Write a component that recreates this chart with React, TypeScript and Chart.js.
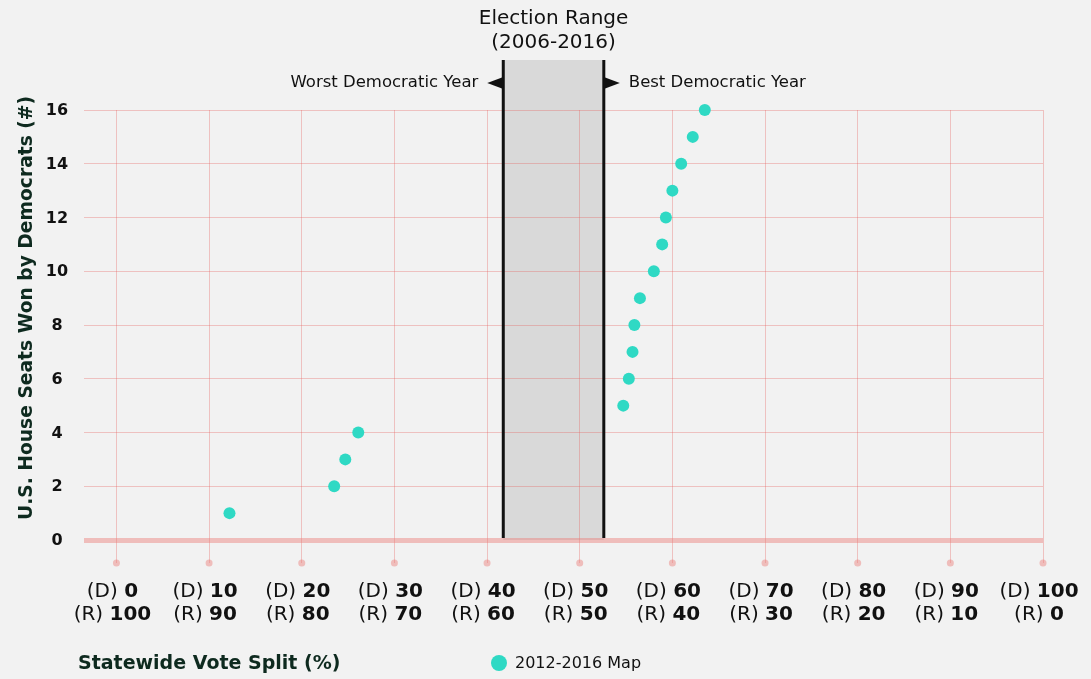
import React, { useEffect, useRef } from "react";
import { Chart, registerables } from "chart.js";

Chart.register(...registerables);

// ---- data ----
const seatsWon = [1, 2, 3, 4, 5, 6, 7, 8, 9, 10, 11, 12, 13, 14, 15, 16];
const demVoteShare = [12.2, 23.5, 24.7, 26.1, 54.7, 55.3, 55.7, 55.9, 56.5, 58.0, 58.9, 59.3, 60.0, 60.95, 62.2, 63.5];
const demTicks = [0, 10, 20, 30, 40, 50, 60, 70, 80, 90, 100];
const repTicks = [100, 90, 80, 70, 60, 50, 40, 30, 20, 10, 0];
const seatTicks = [0, 2, 4, 6, 8, 10, 12, 14, 16];
const electionRange = [41.75, 52.6];
const seriesLabel = "2012-2016 Map";
const xTitle = "Statewide Vote Split (%)";
const yTitle = "U.S. House Seats Won by Democrats (#)";
const rangeTitle = ["Election Range", "(2006-2016)"];
const worstLabel = "Worst Democratic Year";
const bestLabel = "Best Democratic Year";

const FONT = "'DejaVu Sans', sans-serif";
const TEAL = "#2fd9c4";
const GRID = "rgba(232, 95, 90, 0.33)";
const ZERO = "rgba(235, 125, 120, 0.45)";
const DARK = "#0e2a1f";

const decorPlugin = {
  id: "decor",
  beforeDraw(chart: any) {
    const { ctx } = chart;
    const xs = chart.scales.x;
    const ys = chart.scales.y;
    ctx.save();
    ctx.fillStyle = "#f2f2f2";
    ctx.fillRect(0, 0, chart.width, chart.height);
    const x0 = xs.getPixelForValue(electionRange[0]);
    const x1 = xs.getPixelForValue(electionRange[1]);
    const yb = ys.getPixelForValue(0);
    ctx.fillStyle = "#d9d9d9";
    ctx.fillRect(x0, 60, x1 - x0, yb - 60);
    ctx.restore();
  },
  beforeDatasetsDraw(chart: any) {
    const { ctx } = chart;
    const xs = chart.scales.x;
    const ys = chart.scales.y;
    const x0 = xs.getPixelForValue(electionRange[0]);
    const x1 = xs.getPixelForValue(electionRange[1]);
    const yb = ys.getPixelForValue(0);
    ctx.save();
    ctx.strokeStyle = "#111";
    ctx.lineWidth = 3;
    ctx.beginPath();
    ctx.moveTo(x0, 60);
    ctx.lineTo(x0, yb - 2);
    ctx.moveTo(x1, 60);
    ctx.lineTo(x1, yb - 2);
    ctx.stroke();
    // arrows
    const ay = 83;
    ctx.fillStyle = "#111";
    ctx.beginPath();
    ctx.moveTo(x0, ay - 6);
    ctx.lineTo(x0 - 16, ay);
    ctx.lineTo(x0, ay + 6);
    ctx.closePath();
    ctx.fill();
    ctx.beginPath();
    ctx.moveTo(x1, ay - 6);
    ctx.lineTo(x1 + 16, ay);
    ctx.lineTo(x1, ay + 6);
    ctx.closePath();
    ctx.fill();
    ctx.font = `16.5px ${FONT}`;
    ctx.textBaseline = "middle";
    ctx.textAlign = "right";
    ctx.fillText(worstLabel, x0 - 25, ay);
    ctx.textAlign = "left";
    ctx.fillText(bestLabel, x1 + 25, ay);
    // title
    ctx.font = `20px ${FONT}`;
    ctx.textAlign = "center";
    const cx = (x0 + x1) / 2;
    ctx.fillText(rangeTitle[0], cx, 19);
    ctx.fillText(rangeTitle[1], cx, 43);
    ctx.restore();
  },
  afterDraw(chart: any) {
    const { ctx } = chart;
    const xs = chart.scales.x;
    const ys = chart.scales.y;
    const yb = ys.getPixelForValue(0);
    ctx.save();
    // dots at the ends of the vertical grid lines
    ctx.fillStyle = ZERO;
    demTicks.forEach((d) => {
      ctx.beginPath();
      ctx.arc(xs.getPixelForValue(d), yb + 23, 3.5, 0, Math.PI * 2);
      ctx.fill();
    });
    // y tick labels
    ctx.fillStyle = "#111";
    ctx.font = `bold 16px ${FONT}`;
    ctx.textAlign = "center";
    ctx.textBaseline = "middle";
    seatTicks.forEach((s) => {
      ctx.fillText(String(s), 57, ys.getPixelForValue(s) + 1);
    });
    // x tick labels (two lines, mixed weights)
    const drawMixed = (pre: string, num: string, cx: number, cy: number) => {
      ctx.font = `20px ${FONT}`;
      const w1 = ctx.measureText(pre).width;
      ctx.font = `bold 20px ${FONT}`;
      const w2 = ctx.measureText(num).width;
      const start = cx - (w1 + w2) / 2;
      ctx.textAlign = "left";
      ctx.font = `20px ${FONT}`;
      ctx.fillText(pre, start, cy);
      ctx.font = `bold 20px ${FONT}`;
      ctx.fillText(num, start + w1, cy);
    };
    ctx.fillStyle = "#111";
    demTicks.forEach((d, i) => {
      const px = xs.getPixelForValue(d) - 4;
      drawMixed("(D) ", String(d), px, 592);
      drawMixed("(R) ", String(repTicks[i]), px, 615);
    });
    // axis titles
    ctx.fillStyle = DARK;
    ctx.font = `bold 19px ${FONT}`;
    ctx.textAlign = "left";
    ctx.textBaseline = "middle";
    ctx.fillText(xTitle, 78, 664);
    ctx.save();
    ctx.translate(27, 308);
    ctx.rotate(-Math.PI / 2);
    ctx.textAlign = "center";
    ctx.font = `bold 18.7px ${FONT}`;
    ctx.fillText(yTitle, 0, 0);
    ctx.restore();
    // legend
    ctx.fillStyle = TEAL;
    ctx.beginPath();
    ctx.arc(499, 663, 8, 0, Math.PI * 2);
    ctx.fill();
    ctx.fillStyle = "#111";
    ctx.font = `16px ${FONT}`;
    ctx.fillText(seriesLabel, 515, 664);
    ctx.restore();
  },
};

export default function App() {
  const ref = useRef<HTMLCanvasElement>(null);
  useEffect(() => {
    document.body.style.margin = "0";
    document.body.style.background = "#f2f2f2";
    const canvas = ref.current!;
    const chart = new Chart(canvas, {
      type: "scatter",
      data: {
        datasets: [
          {
            label: seriesLabel,
            data: demVoteShare.map((v, i) => ({ x: v, y: seatsWon[i] })),
            backgroundColor: TEAL,
            borderColor: TEAL,
            pointRadius: 6,
            pointHoverRadius: 6,
            borderWidth: 0,
            clip: false as any,
          },
        ],
      },
      options: {
        responsive: false,
        animation: false,
        devicePixelRatio: 1,
        layout: { padding: { top: 110, right: 48, left: 0, bottom: 0 } },
        plugins: { legend: { display: false }, tooltip: { enabled: false } },
        scales: {
          x: {
            type: "linear",
            min: -3.5,
            max: 100,
            border: { display: false },
            grid: {
              color: GRID,
              lineWidth: 1,
              drawTicks: true,
              tickLength: 23,
              tickColor: GRID,
            },
            ticks: { stepSize: 10, includeBounds: false, display: false },
            afterFit: (s: any) => {
              s.height = 679 - 540;
            },
          },
          y: {
            type: "linear",
            min: 0,
            max: 16,
            border: { display: false },
            grid: {
              color: (c: any) => (c.tick && c.tick.value === 0 ? ZERO : GRID),
              lineWidth: (c: any) => (c.tick && c.tick.value === 0 ? 5 : 1),
              drawTicks: false,
            },
            ticks: { stepSize: 2, display: false },
            afterFit: (s: any) => {
              s.width = 84;
            },
          },
        },
      },
      plugins: [decorPlugin],
    });
    return () => chart.destroy();
  }, []);
  return (
    <div style={{ position: "fixed", left: 0, top: 0, width: 1091, height: 679, background: "#f2f2f2" }}>
      <canvas ref={ref} width={1091} height={679} style={{ display: "block", width: 1091, height: 679 }} />
    </div>
  );
}
